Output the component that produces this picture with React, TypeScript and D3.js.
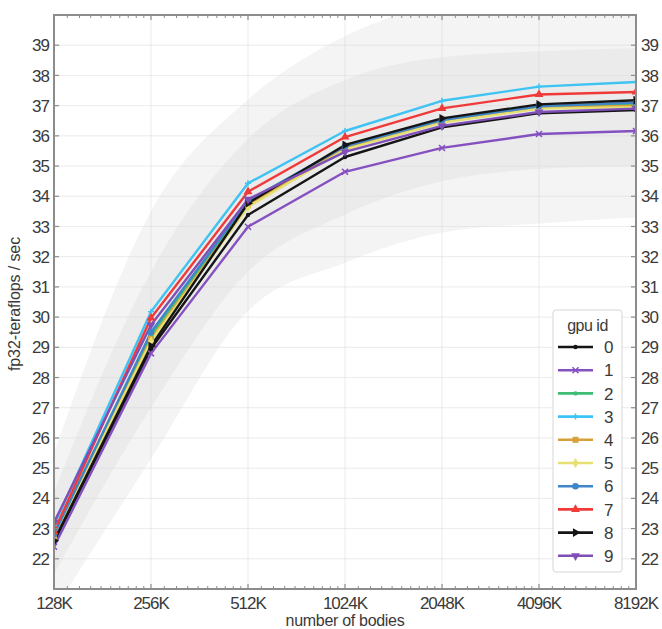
import * as d3 from 'd3'
import { useMemo } from 'react'

// x categories (number of bodies, in K)
const bodies = [128, 256, 512, 1024, 2048, 4096, 8192]
const bodyLabels = ['128K', '256K', '512K', '1024K', '2048K', '4096K', '8192K']

// teraflops per gpu id
const gpu0 = [22.55, 28.95, 33.38, 35.3, 36.28, 36.75, 36.85]
const gpu1 = [22.4, 28.8, 32.99, 34.81, 35.6, 36.06, 36.16]
const gpu2 = [22.85, 29.4, 33.8, 35.62, 36.5, 36.95, 37.05]
const gpu3 = [23.1, 30.18, 34.43, 36.16, 37.16, 37.63, 37.78]
const gpu4 = [22.7, 29.27, 33.7, 35.6, 36.47, 36.92, 37.0]
const gpu5 = [22.75, 29.2, 33.65, 35.55, 36.44, 36.9, 36.95]
const gpu6 = [22.8, 29.5, 33.85, 35.65, 36.52, 36.98, 37.1]
const gpu7 = [22.9, 29.97, 34.15, 35.96, 36.91, 37.37, 37.45]
const gpu8 = [22.6, 29.04, 33.77, 35.7, 36.58, 37.04, 37.18]
const gpu9 = [23.2, 29.74, 33.9, 35.47, 36.33, 36.79, 36.9]

// spread bands
const innerLow = [21.5, 27.0, 31.5, 33.4, 34.5, 34.9, 35.0]
const innerHigh = [24.2, 31.5, 35.9, 37.85, 38.6, 38.8, 38.9]
const outerLow = [20.3, 25.3, 30.2, 31.8, 32.8, 33.1, 33.3]
const outerHigh = [25.5, 33.5, 37.2, 39.3, 40.4, 40.8, 41.0]

const yTicks = d3.range(22, 40)

const series = [
  { id: '0', values: gpu0, color: '#151515', marker: 'dot' },
  { id: '1', values: gpu1, color: '#8550c0', marker: 'x' },
  { id: '2', values: gpu2, color: '#3cbc74', marker: 'dot' },
  { id: '3', values: gpu3, color: '#3ec3f2', marker: 'plus' },
  { id: '4', values: gpu4, color: '#d8a03a', marker: 'square' },
  { id: '5', values: gpu5, color: '#e6df72', marker: 'diamond' },
  { id: '6', values: gpu6, color: '#3f86c8', marker: 'circle' },
  { id: '7', values: gpu7, color: '#f03a3a', marker: 'triUp' },
  { id: '8', values: gpu8, color: '#151515', marker: 'triRight' },
  { id: '9', values: gpu9, color: '#7f4fb8', marker: 'triDown' },
]

const W = 662
const H = 629
const L = 54
const R = 636
const T = 15
const B = 589

function Marker({ kind, x, y, color }: { kind: string; x: number; y: number; color: string }) {
  if (kind === 'dot') return <circle cx={x} cy={y} r={2.2} fill={color} />
  if (kind === 'x')
    return (
      <path d={`M${x - 3},${y - 3}L${x + 3},${y + 3}M${x - 3},${y + 3}L${x + 3},${y - 3}`} stroke={color} strokeWidth={1.5} />
    )
  if (kind === 'plus')
    return <path d={`M${x - 3},${y}L${x + 3},${y}M${x},${y - 3}L${x},${y + 3}`} stroke={color} strokeWidth={1.5} />
  let sym: d3.SymbolType = d3.symbolCircle
  let rot = 0
  let size = 30
  if (kind === 'square') { sym = d3.symbolSquare; size = 36 }
  if (kind === 'diamond') { sym = d3.symbolDiamond; size = 30 }
  if (kind === 'circle') { sym = d3.symbolCircle; size = 34 }
  if (kind === 'triUp') { sym = d3.symbolTriangle; size = 34 }
  if (kind === 'triRight') { sym = d3.symbolTriangle; rot = 90; size = 34 }
  if (kind === 'triDown') { sym = d3.symbolTriangle; rot = 180; size = 34 }
  const d = d3.symbol().type(sym).size(size)()
  return <path d={d ?? ''} transform={`translate(${x},${y}) rotate(${rot})`} fill={color} />
}

export default function App() {
  const x = useMemo(() => d3.scaleLog().base(2).domain([128, 8192]).range([L, R]), [])
  const y = useMemo(() => d3.scaleLinear().domain([21, 40]).range([B, T]), [])

  const minorX: number[] = []
  for (let i = 0; i < bodies.length - 1; i++) {
    for (let k = 1; k < 10; k++) minorX.push(bodies[i] * (1 + k / 10))
  }

  const band = (lo: number[], hi: number[]) =>
    d3.area<number>()
      .x((_, i) => x(bodies[i]))
      .y0((_, i) => y(lo[i]))
      .y1((_, i) => y(hi[i]))
      .curve(d3.curveMonotoneX)(bodies) ?? ''

  const line = d3.line<number>()
    .x((_, i) => x(bodies[i]))
    .y(d => y(d))

  const font = '"Liberation Sans", Arial, sans-serif'
  const legendY0 = 347
  const legendStep = 23.2
  const txt = '#3a3a3a'

  return (
    <svg width={W} height={H} style={{ position: 'absolute', left: 0, top: 0, background: '#fff' }} fontFamily={font}>
      <defs>
        <clipPath id="plot">
          <rect x={L} y={T} width={R - L} height={B - T} />
        </clipPath>
      </defs>
      <g clipPath="url(#plot)">
        <path d={band(outerLow, outerHigh)} fill="#f4f4f4" />
        <path d={band(innerLow, innerHigh)} fill="#ebebeb" />
        {yTicks.map(t => (
          <line key={'gy' + t} x1={L} x2={R} y1={y(t)} y2={y(t)} stroke="#dcdcdc" strokeWidth={0.8} opacity={0.7} />
        ))}
        {bodies.map(b => (
          <line key={'gx' + b} x1={x(b)} x2={x(b)} y1={T} y2={B} stroke="#dcdcdc" strokeWidth={0.8} opacity={0.7} />
        ))}
        {series.map(s => (
          <path key={'l' + s.id} d={line(s.values) ?? ''} fill="none" stroke={s.color} strokeWidth={2.4} strokeLinejoin="round" />
        ))}
        {series.map(s =>
          s.values.map((v, i) => <Marker key={s.id + '-' + i} kind={s.marker} x={x(bodies[i])} y={y(v)} color={s.color} />)
        )}
      </g>

      {/* frame */}
      <rect x={L} y={T} width={R - L} height={B - T} fill="none" stroke="#8c8c8c" strokeWidth={2} />

      {/* x ticks top/bottom */}
      {minorX.map((m, i) => (
        <g key={'mx' + i} stroke="#8c8c8c" strokeWidth={1}>
          <line x1={x(m)} x2={x(m)} y1={B} y2={B - 3} />
          <line x1={x(m)} x2={x(m)} y1={T} y2={T + 3} />
        </g>
      ))}
      {bodies.map((b, i) => (
        <g key={'tx' + b}>
          <line x1={x(b)} x2={x(b)} y1={B} y2={B - 5} stroke="#8c8c8c" strokeWidth={1.2} />
          <line x1={x(b)} x2={x(b)} y1={T} y2={T + 5} stroke="#8c8c8c" strokeWidth={1.2} />
          <text x={x(b)} y={609} textAnchor="middle" fontSize={17} fill={txt} letterSpacing={-1}>
            {bodyLabels[i]}
          </text>
        </g>
      ))}

      {/* y ticks left/right */}
      {yTicks.map(t => (
        <g key={'ty' + t}>
          <line x1={L} x2={L + 5} y1={y(t)} y2={y(t)} stroke="#8c8c8c" strokeWidth={1.2} />
          <line x1={R} x2={R - 5} y1={y(t)} y2={y(t)} stroke="#8c8c8c" strokeWidth={1.2} />
          <text x={49} y={y(t)} dy="0.36em" textAnchor="end" fontSize={17} fill={txt} letterSpacing={-1}>
            {t}
          </text>
          <text x={641} y={y(t)} dy="0.36em" textAnchor="start" fontSize={17} fill={txt} letterSpacing={-1}>
            {t}
          </text>
        </g>
      ))}

      <text x={(L + R) / 2} y={626} textAnchor="middle" fontSize={16} fill={txt} letterSpacing={-0.3}>
        number of bodies
      </text>
      <text transform={`translate(20,${(T + B) / 2 + 2}) rotate(-90)`} textAnchor="middle" fontSize={16} fill={txt} letterSpacing={-0.1}>
        fp32-teraflops / sec
      </text>

      {/* legend */}
      <rect x={553} y={310} width={69} height={262} rx={3} fill="#fff" stroke="#d6d6d6" strokeWidth={1} />
      <text x={587.5} y={331} textAnchor="middle" fontSize={16} fill={txt} letterSpacing={-0.5}>gpu id</text>
      {series.map((s, i) => {
        const ly = legendY0 + i * legendStep
        return (
          <g key={'lg' + s.id}>
            <line x1={558} x2={593} y1={ly} y2={ly} stroke={s.color} strokeWidth={2.6} />
            <Marker kind={s.marker} x={575.5} y={ly} color={s.color} />
            <text x={604} y={ly} dy="0.36em" fontSize={17} fill={txt}>{s.id}</text>
          </g>
        )
      })}
    </svg>
  )
}
